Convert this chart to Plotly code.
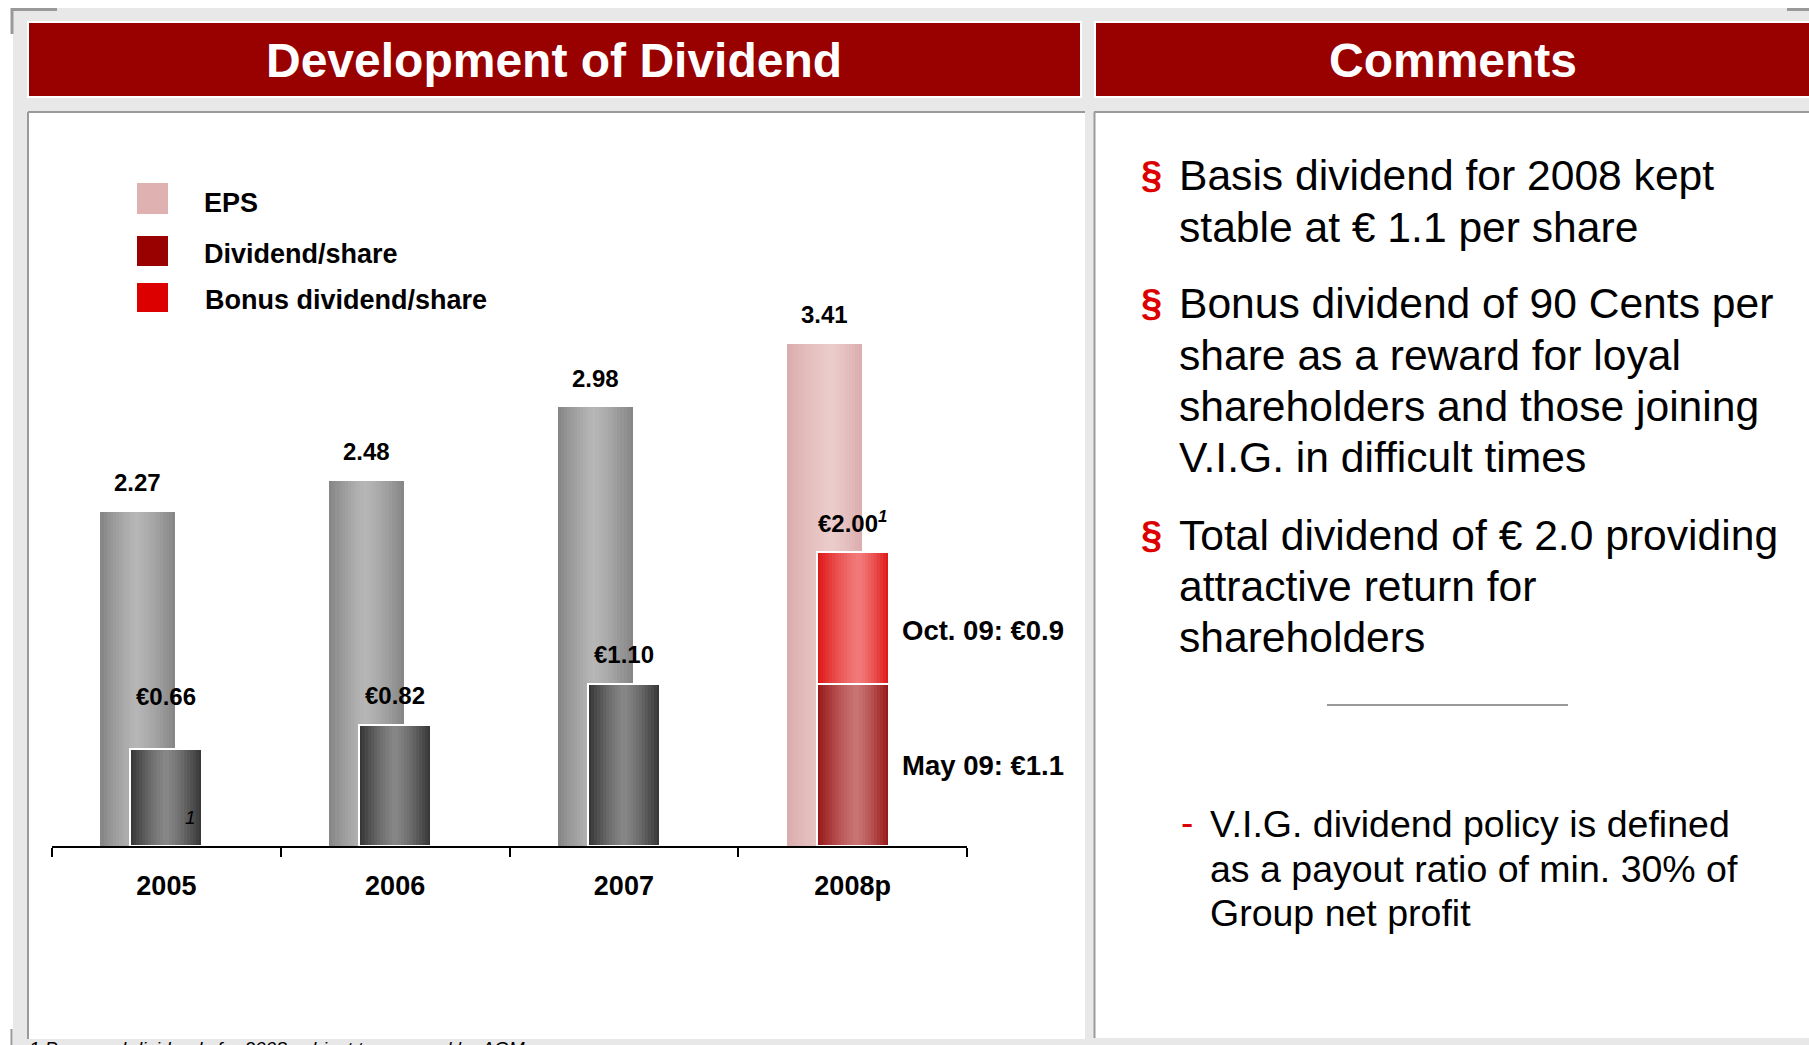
import plotly.graph_objects as go

# ---------------- data ----------------
years = ["2005", "2006", "2007", "2008p"]
eps = [2.27, 2.48, 2.98, 3.41]
dividend = [0.66, 0.82, 1.10, 1.10]
bonus_years = ["2008p"]
bonus = [0.90]
payment_labels = ["May 09", "Oct. 09"]
legend_labels = ["EPS", "Dividend/share", "Bonus dividend/share"]
panel_titles = ["Development of Dividend", "Comments"]
comments = [
    ["Basis dividend for 2008 kept", "stable at \u20ac 1.1 per share"],
    ["Bonus dividend of 90 Cents per", "share as a reward for loyal",
     "shareholders and those joining", "V.I.G. in difficult times"],
    ["Total dividend of \u20ac 2.0 providing", "attractive return for", "shareholders"],
]
policy_lines = ["V.I.G. dividend policy is defined",
                "as a payout ratio of min. 30% of", "Group net profit"]
footnote = "1 Proposed dividends for 2008 subject to approval by AGM"

# ---------------- layout geometry ----------------
W, H = 1809, 1045
L, R, T, B = 52, 967, 257, 846          # plot area in pixels
FONT = "Liberation Sans, Arial, sans-serif"


def px(x):
    return (x - L) / (R - L)


def py(y):
    return (B - y) / (B - T)


CAT_PX = (R - L) / len(years)
eps_w = 75 / CAT_PX
eps_left = -66 / CAT_PX
div_w = 72 / CAT_PX
div_left = -36 / CAT_PX
eps_center = eps_left + eps_w / 2


def rgb(h):
    return tuple(int(h[i:i + 2], 16) for i in (1, 3, 5))


def mix(c1, c2, f):
    return "rgb(%d,%d,%d)" % tuple(round(a + (b - a) * f) for a, b in zip(c1, c2))


def shade(t, peak):
    d = (t - peak) / peak if t < peak else (t - peak) / (1 - peak)
    return max(0.0, 1 - abs(d) ** 1.3)


fig = go.Figure()
N = 24


def gradient_bars(x, y, base, left, width, edges, peaks, peak_pos):
    sw = width / N
    for i in range(N):
        t = (i + 0.5) / N
        cols = [mix(e, p, shade(t, pp)) for e, p, pp in zip(edges, peaks, peak_pos)]
        w = sw * 1.6 if i < N - 1 else sw
        fig.add_trace(go.Bar(x=x, y=y, base=base, offset=left + i * sw, width=w,
                             marker=dict(color=cols, line=dict(width=0)),
                             showlegend=False, hoverinfo="skip"))


grey_e, grey_p = rgb("#848484"), rgb("#b6b6b6")
pink_e, pink_p = rgb("#dbacac"), rgb("#ebcbcb")
dgrey_e, dgrey_p = rgb("#333333"), rgb("#878787")
dred_e, dred_p = rgb("#961414"), rgb("#c97474")
red_e, red_p = rgb("#de1414"), rgb("#f27a7a")

is_proj = [y.endswith("p") for y in years]
gradient_bars(years, eps, None, eps_left, eps_w,
              [pink_e if p else grey_e for p in is_proj],
              [pink_p if p else grey_p for p in is_proj],
              [0.6 if p else 0.48 for p in is_proj])
gradient_bars(years, dividend, None, div_left, div_w,
              [dred_e if p else dgrey_e for p in is_proj],
              [dred_p if p else dgrey_p for p in is_proj],
              [0.55 if p else 0.5 for p in is_proj])
bonus_base = [dividend[years.index(y)] for y in bonus_years]
gradient_bars(bonus_years, bonus, bonus_base, div_left, div_w,
              [red_e] * len(bonus), [red_p] * len(bonus), [0.58] * len(bonus))

# white outlines of dividend bars
fig.add_trace(go.Bar(x=years, y=dividend, offset=div_left, width=div_w,
                     marker=dict(color="rgba(0,0,0,0)", line=dict(color="white", width=2)),
                     showlegend=False, hoverinfo="skip"))
fig.add_trace(go.Bar(x=bonus_years, y=bonus, base=bonus_base, offset=div_left, width=div_w,
                     marker=dict(color="rgba(0,0,0,0)", line=dict(color="white", width=2)),
                     showlegend=False, hoverinfo="skip"))

shapes = []
ann = []


def rect(x0, y0, x1, y1, fill, line=None, lw=0, layer="below"):
    shapes.append(dict(type="rect", xref="paper", yref="paper",
                       x0=px(x0), x1=px(x1), y0=py(y1), y1=py(y0),
                       fillcolor=fill, line=dict(color=line or fill, width=lw), layer=layer))


def hline(x0, x1, y, color, lw):
    shapes.append(dict(type="line", xref="paper", yref="paper",
                       x0=px(x0), x1=px(x1), y0=py(y), y1=py(y),
                       line=dict(color=color, width=lw), layer="below"))


def vline(x, y0, y1, color, lw):
    shapes.append(dict(type="line", xref="paper", yref="paper",
                       x0=px(x), x1=px(x), y0=py(y0), y1=py(y1),
                       line=dict(color=color, width=lw), layer="below"))


def text(x, y, s, size, color="black", bold=False, italic=False, xanchor="left"):
    ann.append(dict(xref="paper", yref="paper", x=px(x), y=py(y), text=s,
                    showarrow=False, xanchor=xanchor, yanchor="middle",
                    font=dict(family=FONT, size=size, color=color,
                              weight="bold" if bold else "normal",
                              style="italic" if italic else "normal")))


# background
rect(13, 8, W, H, "#e8e8e8")
# corner marks
hline(11, 57, 9.5, "#999999", 3)
vline(12, 8, 34, "#999999", 3)
hline(1787, W, 9.5, "#999999", 3)
vline(11.5, 1029, H, "#999999", 2)
# title bars
rect(28, 22, 1081, 97, "#990000", "white", 2)
rect(1095, 22, W + 5, 97, "#990000", "white", 2)
text(554, 60, panel_titles[0], 48, "white", True, xanchor="center")
text(1453, 60, panel_titles[1], 48, "white", True, xanchor="center")
# panels
rect(28, 112, 1085, 1039, "white")
hline(28, 1085, 112, "#9a9a9a", 2)
vline(28, 112, 1039, "#9a9a9a", 2)
rect(1094, 112, W, 1038, "white")
hline(1094, W, 112, "#9a9a9a", 2)
vline(1094.5, 112, 1038, "#9a9a9a", 2)

# legend
leg_cols = ["#dfb1b1", "#990000", "#dd0000"]
leg_y = [(183, 214), (236, 266), (283, 312)]
leg_tx = [(202, 203), (202, 254), (203, 300)]
for lab, c, (y0, y1), (tx, ty) in zip(legend_labels, leg_cols, leg_y, leg_tx):
    rect(137, y0, 168, y1, c)
    text(tx, ty, lab, 27, "black", True)

# data labels
for i, v in enumerate(eps):
    ann.append(dict(x=i + eps_center, y=v, xref="x", yref="y", text=f"{v:.2f}",
                    showarrow=False, yshift=29, yanchor="middle", xanchor="center",
                    font=dict(family=FONT, size=24, color="black", weight="bold")))
totals = [d + (bonus[bonus_years.index(y)] if y in bonus_years else 0)
          for y, d in zip(years, dividend)]
for i, v in enumerate(totals):
    s = f"\u20ac{v:.2f}"
    shift = 30
    if years[i] in bonus_years:
        s += "<sup><i>1</i></sup>"
    if i == 0:
        shift = 52
    ann.append(dict(x=i, y=v, xref="x", yref="y", text=s,
                    showarrow=False, yshift=shift, yanchor="middle", xanchor="center",
                    font=dict(family=FONT, size=24, color="black", weight="bold")))
# footnote marker in first dividend bar
ann.append(dict(x=0, y=0, xref="x", yref="y", text="<i>1</i>", showarrow=False,
                xshift=24, yshift=29, font=dict(family=FONT, size=19, color="black")))
# payment labels for 2008p
j = years.index(bonus_years[0])
pay_vals = [dividend[j], bonus[0]]
pay_mid = [dividend[j] / 2, dividend[j] + bonus[0] / 2]
pay_shift = [0, -13]
for lab, v, m, sh in zip(payment_labels, pay_vals, pay_mid, pay_shift):
    ann.append(dict(x=j, y=m, xref="x", yref="y", text=f"{lab}: \u20ac{v:.1f}",
                    showarrow=False, xshift=47, yshift=sh, xanchor="left", yanchor="middle",
                    font=dict(family=FONT, size=27.5, color="black", weight="bold")))

# comments
line_y = [[175, 227], [303, 355, 406, 457], [535, 586, 637]]
for lines, ys in zip(comments, line_y):
    text(1151, ys[0], "\u00a7", 38, "#dd0000", bold=True, xanchor="center")
    for s, y in zip(lines, ys):
        text(1177, y, s, 42.6)
hline(1327, 1568, 705, "#999999", 2)
text(1179, 822, "-", 37, "#dd0000")
for s, y in zip(policy_lines, [824, 869, 913]):
    text(1208, y, s, 37.5)
ann.append(dict(xref="paper", yref="paper", x=px(27), y=py(1036), text=footnote,
                showarrow=False, xanchor="left", yanchor="top",
                font=dict(family=FONT, size=19, color="black", style="italic")))

fig.update_layout(
    width=W, height=H, autosize=False,
    margin=dict(l=L, r=W - R, t=T, b=H - B, pad=0),
    paper_bgcolor="white", plot_bgcolor="rgba(0,0,0,0)",
    barmode="overlay", bargap=0, showlegend=False,
    shapes=shapes, annotations=ann,
    xaxis=dict(type="category", categoryorder="array", categoryarray=years,
               range=[-0.5, len(years) - 0.5], tickson="boundaries", ticks="outside",
               ticklen=9, tickwidth=2, tickcolor="black", showline=True,
               linecolor="black", linewidth=2, showgrid=False, zeroline=False,
               ticklabelstandoff=15,
               tickfont=dict(family=FONT, size=27, color="black", weight="bold")),
    yaxis=dict(range=[0, 4], visible=False, showgrid=False, zeroline=False),
)
fig.write_html("out.html", config={"displayModeBar": False},
               post_script="document.body.style.margin='0';document.body.style.overflow='hidden';")
